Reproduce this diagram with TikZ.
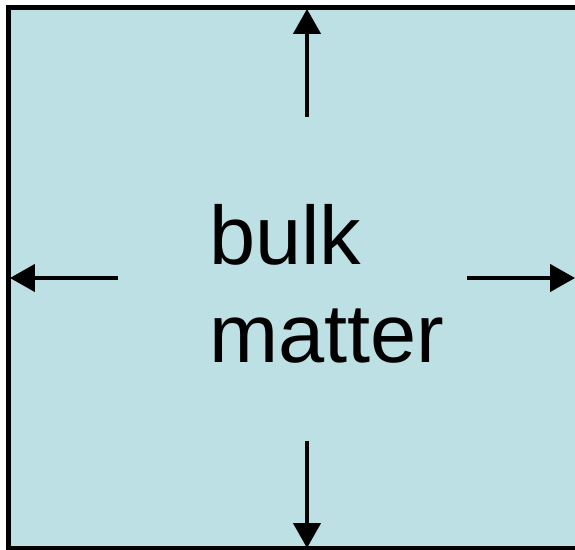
\documentclass[tikz,border=0pt]{standalone}
\usepackage{fontspec}
\setmainfont{Liberation Sans}
\usetikzlibrary{arrows.meta}
\definecolor{bulkblue}{HTML}{BCE0E3}
\tikzset{
    bm box/.style={draw=black, fill=bulkblue, line width=0.125cm},
    bm arrow/.style={line width=0.08cm, black,
                     -{Triangle[length=6.2mm, width=6.8mm]}},
    bm label/.style={font=\fontsize{59}{70}\selectfont, align=left,
                     inner sep=0pt, anchor=base west},
}

\begin{document}
\begin{tikzpicture}[x=0.025cm, y=-0.025cm]
    \useasboundingbox (0, 0) rectangle (575, 550);
    \clip (0, 0) rectangle (575, 550);
    % Box
    \draw[bm box] (8.5, 7.5) rectangle (578, 549);
    % Label
    \node[bm label] (bulk) at (209, 363) {bulk\\matter};
    % Arrow ends
    \coordinate (top in) at (307, 117);
    \coordinate (top out) at (307, 9);
    \coordinate (left in) at (118, 278);
    \coordinate (left out) at (10, 278);
    \coordinate (right in) at (467, 278);
    \coordinate (right out) at (575, 278);
    \coordinate (bot in) at (307, 441);
    \coordinate (bot out) at (307, 548);
    % Arrows
    \draw[bm arrow] (top in) -- (top out);
    \draw[bm arrow] (left in) -- (left out);
    \draw[bm arrow] (right in) -- (right out);
    \draw[bm arrow] (bot in) -- (bot out);
\end{tikzpicture}
\end{document}
